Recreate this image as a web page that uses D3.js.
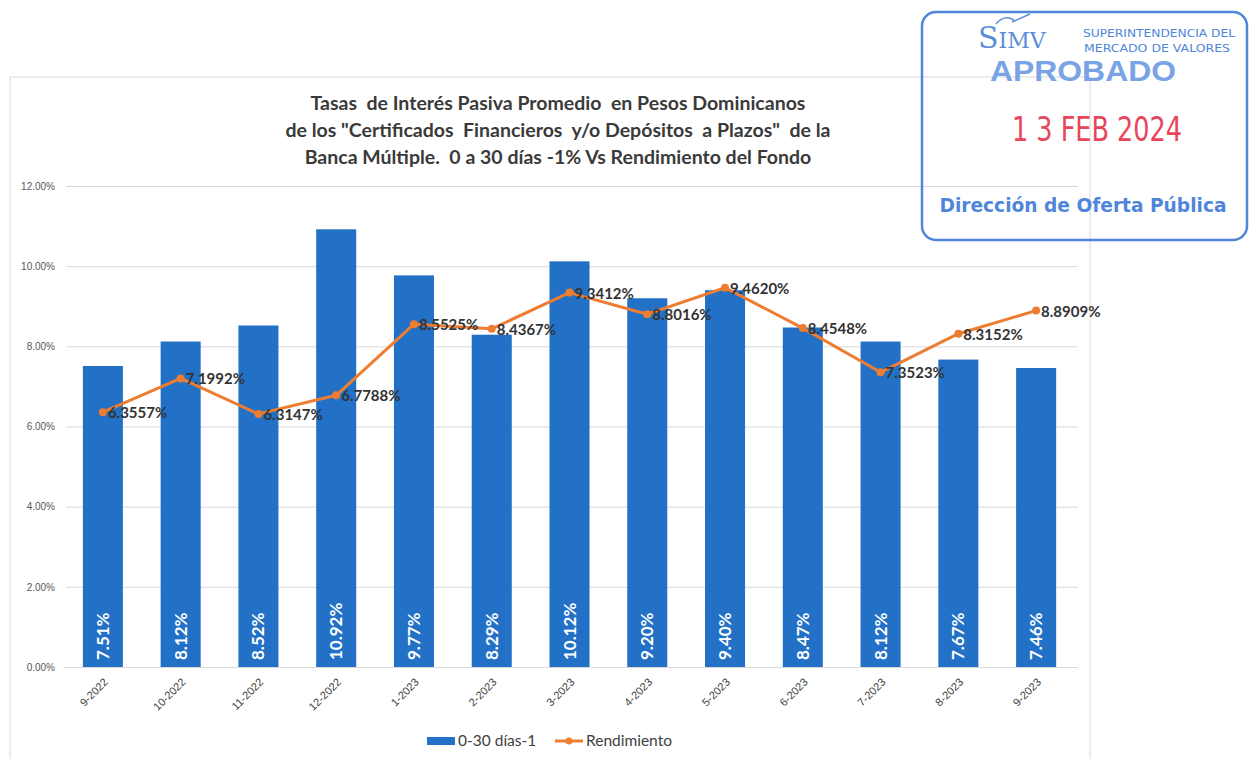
<!DOCTYPE html>
<html>
<head>
<meta charset="utf-8">
<script src="https://cdn.jsdelivr.net/npm/d3@7"></script>
<style>
  body { margin: 0; background: #fff; }
  svg { font-family: Lato, "Open Sans", sans-serif; }
</style>
</head>
<body>
<div id="chart"></div>
<script>
// datos del gráfico
const meses = ["9-2022", "10-2022", "11-2022", "12-2022", "1-2023", "2-2023", "3-2023",
               "4-2023", "5-2023", "6-2023", "7-2023", "8-2023", "9-2023"];
const tasas = [7.51, 8.12, 8.52, 10.92, 9.77, 8.29, 10.12, 9.20, 9.40, 8.47, 8.12, 7.67, 7.46];
const rendimiento = [6.3557, 7.1992, 6.3147, 6.7788, 8.5525, 8.4367, 9.3412, 8.8016, 9.4620, 8.4548, 7.3523, 8.3152, 8.8909];
const yTicks = [0, 2, 4, 6, 8, 10, 12];
const titulo = [
  "Tasas  de Interés Pasiva Promedio  en Pesos Dominicanos",
  "de los \"Certificados  Financieros  y/o Depósitos  a Plazos\"  de la",
  "Banca Múltiple.  0 a 30 días -1% Vs Rendimiento del Fondo"
];
const serieBarras = "0-30 días-1";
const serieLinea = "Rendimiento";

const width = 1259, height = 759;
const svg = d3.select("#chart").append("svg")
  .attr("width", width).attr("height", height);

// marco del gráfico
svg.append("rect")
  .attr("x", 10).attr("y", 77).attr("width", 1080).attr("height", 690)
  .attr("fill", "none").attr("stroke", "#d9d9d9");

// escalas
const x = d3.scaleBand().domain(meses).range([64, 1075]).paddingInner(0.485).paddingOuter(0.2425);
const y = d3.scaleLinear().domain([0, 12]).range([667, 186]);

// líneas de cuadrícula y eje Y
const yAxis = svg.append("g")
  .attr("transform", "translate(66,0)")
  .call(d3.axisLeft(y).tickValues(yTicks).tickSize(-1012).tickFormat(d => d3.format(".2f")(d) + "%"));
yAxis.select(".domain").remove();
yAxis.selectAll(".tick line").attr("stroke", "#d9d9d9");
yAxis.selectAll(".tick text")
  .attr("x", -11).attr("fill", "#595959").style("font-size", "10px");

// barras
svg.selectAll("rect.bar")
  .data(tasas)
  .enter().append("rect")
  .attr("class", "bar")
  .attr("x", (d, i) => x(meses[i]))
  .attr("y", d => y(d))
  .attr("width", x.bandwidth())
  .attr("height", d => y(0) - y(d))
  .attr("fill", "#2371c6");

// etiquetas de las barras (verticales, blancas)
svg.selectAll("text.barLabel")
  .data(tasas)
  .enter().append("text")
  .attr("class", "barLabel")
  .attr("transform", (d, i) => `translate(${x(meses[i]) + x.bandwidth() / 2 + 6},${y(0) - 7}) rotate(-90)`)
  .attr("fill", "#fff")
  .style("font-size", "17px")
  .style("font-weight", "bold")
  .text(d => d.toFixed(2) + "%");

// eje X
const xAxis = svg.append("g")
  .attr("transform", `translate(0,${y(0)})`)
  .call(d3.axisBottom(x).tickSize(0));
xAxis.select(".domain").attr("stroke", "#d9d9d9");
xAxis.selectAll(".tick text")
  .attr("text-anchor", "end")
  .attr("fill", "#404040")
  .style("font-size", "11px")
  .attr("transform", "translate(3,13) rotate(-45)")
  .attr("dy", "0.35em").attr("y", 0);

// línea de rendimiento
const line = d3.line()
  .x((d, i) => x(meses[i]) + x.bandwidth() / 2)
  .y(d => y(d));
svg.append("path")
  .datum(rendimiento)
  .attr("d", line)
  .attr("fill", "none")
  .attr("stroke", "#ed7d31")
  .attr("stroke-width", 3)
  .attr("stroke-linejoin", "round");

svg.selectAll("circle.pt")
  .data(rendimiento)
  .enter().append("circle")
  .attr("class", "pt")
  .attr("cx", (d, i) => x(meses[i]) + x.bandwidth() / 2)
  .attr("cy", d => y(d))
  .attr("r", 4)
  .attr("fill", "#ed7d31");

svg.selectAll("text.lineLabel")
  .data(rendimiento)
  .enter().append("text")
  .attr("class", "lineLabel")
  .attr("x", (d, i) => x(meses[i]) + x.bandwidth() / 2 + 5)
  .attr("y", d => y(d) + 6)
  .attr("fill", "#333")
  .style("font-size", "15px")
  .style("font-weight", "bold")
  .text(d => d.toFixed(4) + "%");

// título
svg.append("text")
  .attr("text-anchor", "middle")
  .attr("fill", "#3a3a3a")
  .style("font-size", "19.5px")
  .style("font-weight", "bold")
  .selectAll("tspan")
  .data(titulo)
  .enter().append("tspan")
  .attr("x", 558)
  .attr("y", (d, i) => 110 + i * 27)
  .attr("xml:space", "preserve")
  .style("white-space", "pre")
  .text(d => d);

// leyenda
const leg = svg.append("g").attr("transform", "translate(0,741)");
leg.append("rect").attr("x", 427).attr("y", -4).attr("width", 28).attr("height", 8).attr("fill", "#2371c6");
leg.append("text").attr("x", 458).attr("y", 5).attr("fill", "#404040").style("font-size", "15.5px").text(serieBarras);
leg.append("line").attr("x1", 555).attr("x2", 583).attr("y1", 0).attr("y2", 0)
  .attr("stroke", "#ed7d31").attr("stroke-width", 3);
leg.append("circle").attr("cx", 569).attr("cy", 0).attr("r", 3.5).attr("fill", "#ed7d31");
leg.append("text").attr("x", 586).attr("y", 5).attr("fill", "#404040").style("font-size", "15.5px").text(serieLinea);

// sello de aprobación
const sello = svg.append("g");
sello.append("rect")
  .attr("x", 922).attr("y", 12).attr("width", 325).attr("height", 228).attr("rx", 14)
  .attr("fill", "none").attr("stroke", "#4f86db").attr("stroke-width", 2.5);
const logo = sello.append("text")
  .attr("x", 978).attr("y", 48)
  .attr("fill", "#5b8ed8")
  .style("font-family", "'DejaVu Serif', 'Liberation Serif', serif");
logo.append("tspan").style("font-size", "30px").text("S");
logo.append("tspan").style("font-size", "22px").text("IMV");
sello.append("path")
  .attr("d", "M996,24 q8,-10 18,-4 M1012,22 l18,-8")
  .attr("fill", "none").attr("stroke", "#5b8ed8").attr("stroke-width", 1.5);
sello.append("text").attr("x", 1159).attr("y", 37).attr("text-anchor", "middle")
  .attr("fill", "#4f86db").style("font-family", "'DejaVu Sans', sans-serif").style("font-size", "11px")
  .attr("textLength", 152).attr("lengthAdjust", "spacingAndGlyphs")
  .text("SUPERINTENDENCIA DEL");
sello.append("text").attr("x", 1157).attr("y", 52).attr("text-anchor", "middle")
  .attr("fill", "#4f86db").style("font-family", "'DejaVu Sans', sans-serif").style("font-size", "11px")
  .attr("textLength", 146).attr("lengthAdjust", "spacingAndGlyphs")
  .text("MERCADO DE VALORES");
sello.append("text").attr("x", 1083).attr("y", 81).attr("text-anchor", "middle")
  .attr("fill", "#7aa3e6").style("font-family", "'Liberation Sans', Arial, sans-serif")
  .style("font-size", "30px").style("font-weight", "bold")
  .attr("textLength", 186).attr("lengthAdjust", "spacingAndGlyphs")
  .text("APROBADO");
sello.append("text").attr("x", 1097).attr("y", 141).attr("text-anchor", "middle")
  .attr("fill", "#e8455a").style("font-family", "'DejaVu Sans Condensed', 'Liberation Sans', sans-serif")
  .style("font-size", "33px")
  .attr("textLength", 170).attr("lengthAdjust", "spacingAndGlyphs")
  .attr("xml:space", "preserve").style("white-space", "pre")
  .text("1 3 FEB 2024");
sello.append("text").attr("x", 1083).attr("y", 212).attr("text-anchor", "middle")
  .attr("fill", "#4f86db").style("font-family", "'DejaVu Sans', sans-serif")
  .style("font-size", "20px").style("font-weight", "bold")
  .attr("textLength", 287).attr("lengthAdjust", "spacingAndGlyphs")
  .text("Dirección de Oferta Pública");
</script>
</body>
</html>
